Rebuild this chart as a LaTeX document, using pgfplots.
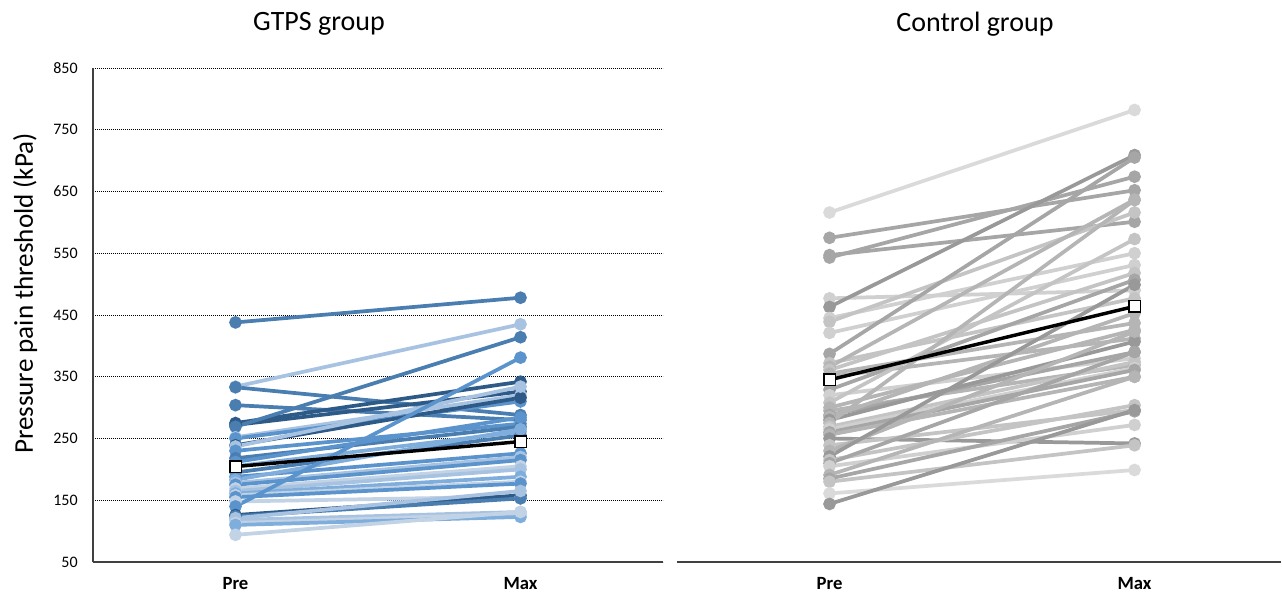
\documentclass[border=0pt]{standalone}
\usepackage{fontspec}
\setmainfont{Carlito}
\usepackage{pgfplots}
\pgfplotsset{compat=1.18}
\definecolor{gA}{HTML}{2E5A87}
\definecolor{gB}{HTML}{4A7DB0}
\definecolor{gC}{HTML}{5B93CC}
\definecolor{gD}{HTML}{7FAEDC}
\definecolor{gE}{HTML}{A8C3E2}
\definecolor{gF}{HTML}{C3D3E6}
\definecolor{kA}{HTML}{999999}
\definecolor{kB}{HTML}{A6A6A6}
\definecolor{kC}{HTML}{B5B5B5}
\definecolor{kD}{HTML}{C4C4C4}
\definecolor{kE}{HTML}{D0D0D0}
\definecolor{kF}{HTML}{DADADA}
\begin{document}
\begin{tikzpicture}
\useasboundingbox (0,0) rectangle (961.5pt,447.75pt);
\pgfplotsset{
  panel/.style={
    scale only axis, anchor=south west, height=370.5pt,
    ymin=50, ymax=850, ytick={50,150,...,850},
    xmin=0,
    xtick={0.5,1.5}, xticklabels={Pre,Max},
    x tick label style={font=\fontsize{14}{16}\selectfont\bfseries, yshift=-8pt},
    ymajorgrids, grid style={black, line width=0.6pt, dash pattern=on 0.6pt off 0.9pt},
    major tick length=0pt,
    axis x line=bottom,
    title style={font=\fontsize{21}{25}\selectfont, at={(axis description cs:0.5,1)}, anchor=center, yshift=27pt},
    /pgf/number format/assume math mode=true,
  },
  gl/.style={line width=2.8pt, mark=*, mark size=3.3pt},
  ml/.style={black, line width=2.6pt, mark=square*, mark size=4.3pt, mark options={fill=white, draw=black, line width=1.1pt}},
}
\begin{axis}[panel, at={(69.75pt,26.25pt)}, width=427.5pt, xmax=2,
  axis y line=left,
  axis line style={-, draw=black!75, line width=1.3pt},
  yticklabel style={font=\fontsize{12}{14}\selectfont, xshift=-8pt},
  title={GTPS group}, title style={xshift=-44.25pt},
  ylabel={Pressure pain threshold (kPa)},
  ylabel style={font=\fontsize{20.3}{24}\selectfont, at={(axis description cs:-0.119,0.5435)}, anchor=center},
]
\addplot[gl, gB] coordinates {(0.5,438) (1.5,478)};
\addplot[gl, gE] coordinates {(0.5,334) (1.5,435)};
\addplot[gl, gB] coordinates {(0.5,333) (1.5,288)};
\addplot[gl, gB] coordinates {(0.5,304) (1.5,280)};
\addplot[gl, gA] coordinates {(0.5,275) (1.5,342)};
\addplot[gl, gA] coordinates {(0.5,272) (1.5,326)};
\addplot[gl, gB] coordinates {(0.5,269) (1.5,414)};
\addplot[gl, gE] coordinates {(0.5,252) (1.5,320)};
\addplot[gl, gC] coordinates {(0.5,250) (1.5,310)};
\addplot[gl, gA] coordinates {(0.5,239) (1.5,316)};
\addplot[gl, gE] coordinates {(0.5,237) (1.5,334)};
\addplot[gl, gC] coordinates {(0.5,230) (1.5,274)};
\addplot[gl, gB] coordinates {(0.5,218) (1.5,269)};
\addplot[gl, gC] coordinates {(0.5,212) (1.5,284)};
\addplot[gl, gD] coordinates {(0.5,205) (1.5,261)};
\addplot[gl, gB] coordinates {(0.5,195) (1.5,255)};
\addplot[gl, gC] coordinates {(0.5,188) (1.5,226)};
\addplot[gl, gD] coordinates {(0.5,183) (1.5,265)};
\addplot[gl, gE] coordinates {(0.5,178) (1.5,220)};
\addplot[gl, gC] coordinates {(0.5,175) (1.5,215)};
\addplot[gl, gF] coordinates {(0.5,169) (1.5,205)};
\addplot[gl, gE] coordinates {(0.5,165) (1.5,200)};
\addplot[gl, gD] coordinates {(0.5,161) (1.5,188)};
\addplot[gl, gF] coordinates {(0.5,158) (1.5,180)};
\addplot[gl, gC] coordinates {(0.5,155) (1.5,177)};
\addplot[gl, gF] coordinates {(0.5,148) (1.5,156)};
\addplot[gl, gC] coordinates {(0.5,140) (1.5,381)};
\addplot[gl, gA] coordinates {(0.5,126) (1.5,158)};
\addplot[gl, gB] coordinates {(0.5,124) (1.5,153)};
\addplot[gl, gE] coordinates {(0.5,121) (1.5,165)};
\addplot[gl, gE] coordinates {(0.5,118) (1.5,131)};
\addplot[gl, gF] coordinates {(0.5,113) (1.5,128)};
\addplot[gl, gD] coordinates {(0.5,110) (1.5,123)};
\addplot[gl, gF] coordinates {(0.5,94) (1.5,131)};
\addplot[ml] coordinates {(0.5,204.6) (1.5,245)};
\end{axis}
\begin{axis}[panel, at={(507.75pt,26.25pt)}, width=453pt, xmax=1.98,
  axis y line=none, yticklabels={},
  axis line style={-, draw=black!75, line width=1.3pt},
  title={Control group}, title style={xshift=-3pt},
]
\addplot[gl, kF] coordinates {(0.5,616) (1.5,782)};
\addplot[gl, kB] coordinates {(0.5,575) (1.5,652)};
\addplot[gl, kB] coordinates {(0.5,547) (1.5,601)};
\addplot[gl, kB] coordinates {(0.5,543) (1.5,674)};
\addplot[gl, kE] coordinates {(0.5,477) (1.5,490)};
\addplot[gl, kA] coordinates {(0.5,463) (1.5,709)};
\addplot[gl, kE] coordinates {(0.5,445) (1.5,550)};
\addplot[gl, kD] coordinates {(0.5,439) (1.5,616)};
\addplot[gl, kE] coordinates {(0.5,421) (1.5,531)};
\addplot[gl, kB] coordinates {(0.5,387) (1.5,705)};
\addplot[gl, kD] coordinates {(0.5,372) (1.5,477)};
\addplot[gl, kC] coordinates {(0.5,366) (1.5,637)};
\addplot[gl, kD] coordinates {(0.5,361) (1.5,518)};
\addplot[gl, kC] coordinates {(0.5,355) (1.5,437)};
\addplot[gl, kC] coordinates {(0.5,350) (1.5,412)};
\addplot[gl, kB] coordinates {(0.5,329) (1.5,507)};
\addplot[gl, kE] coordinates {(0.5,320) (1.5,380)};
\addplot[gl, kD] coordinates {(0.5,308) (1.5,573)};
\addplot[gl, kC] coordinates {(0.5,300) (1.5,426)};
\addplot[gl, kC] coordinates {(0.5,295) (1.5,369)};
\addplot[gl, kB] coordinates {(0.5,288) (1.5,390)};
\addplot[gl, kC] coordinates {(0.5,285) (1.5,453)};
\addplot[gl, kA] coordinates {(0.5,280) (1.5,407)};
\addplot[gl, kC] coordinates {(0.5,275) (1.5,636)};
\addplot[gl, kD] coordinates {(0.5,269) (1.5,374)};
\addplot[gl, kE] coordinates {(0.5,265) (1.5,364)};
\addplot[gl, kB] coordinates {(0.5,260) (1.5,361)};
\addplot[gl, kC] coordinates {(0.5,256) (1.5,350)};
\addplot[gl, kA] coordinates {(0.5,250) (1.5,242)};
\addplot[gl, kD] coordinates {(0.5,239) (1.5,296)};
\addplot[gl, kC] coordinates {(0.5,230) (1.5,423)};
\addplot[gl, kA] coordinates {(0.5,221) (1.5,499)};
\addplot[gl, kD] coordinates {(0.5,215) (1.5,304)};
\addplot[gl, kB] coordinates {(0.5,210) (1.5,390)};
\addplot[gl, kE] coordinates {(0.5,205) (1.5,272)};
\addplot[gl, kC] coordinates {(0.5,191) (1.5,350)};
\addplot[gl, kB] coordinates {(0.5,185) (1.5,294)};
\addplot[gl, kD] coordinates {(0.5,180) (1.5,239)};
\addplot[gl, kF] coordinates {(0.5,161) (1.5,199)};
\addplot[gl, kA] coordinates {(0.5,144) (1.5,296)};
\addplot[ml] coordinates {(0.5,345) (1.5,464)};
\end{axis}
\end{tikzpicture}
\end{document}
